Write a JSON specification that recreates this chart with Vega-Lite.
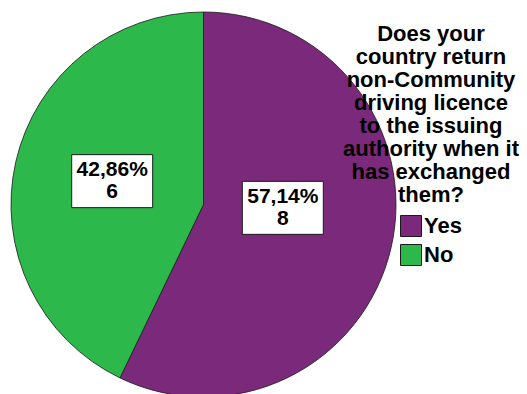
{
  "$schema": "https://vega.github.io/schema/vega-lite/v6.json",
  "width": 407,
  "height": 409,
  "padding": 0,
  "autosize": {"type": "pad"},
  "background": "white",
  "config": {
    "font": "Liberation Sans",
    "view": {"stroke": null}
  },
  "data": {
    "values": [
      {"answer": "Yes", "count": 8},
      {"answer": "No", "count": 6}
    ]
  },
  "transform": [
    {"joinaggregate": [{"op": "sum", "field": "count", "as": "total"}]},
    {"window": [{"op": "sum", "field": "count", "as": "cum"}], "sort": [{"field": "count", "order": "descending"}], "frame": [null, 0]},
    {"calculate": "(datum.cum - datum.count / 2) / datum.total * 2 * PI", "as": "mid"},
    {"calculate": "87.5 * sin(datum.mid) - 6", "as": "lx"},
    {"calculate": "60 * cos(datum.mid) + 10", "as": "ly"},
    {"calculate": "datum.lx - 40.5", "as": "bx1"},
    {"calculate": "datum.lx + 40.5", "as": "bx2"},
    {"calculate": "datum.ly - 26.5", "as": "by1"},
    {"calculate": "datum.ly + 26.5", "as": "by2"},
    {"calculate": "[replace(format(datum.count / datum.total * 100, '.2f'), '.', ',') + '%', '' + datum.count]", "as": "label"}
  ],
  "layer": [
    {
      "mark": {"type": "arc", "outerRadius": 192.5, "stroke": "#1a1a1a", "strokeWidth": 0.8},
      "encoding": {
        "theta": {"field": "count", "type": "quantitative", "stack": true},
        "order": {"field": "count", "type": "quantitative", "sort": "descending"},
        "color": {
          "field": "answer",
          "type": "nominal",
          "scale": {"domain": ["Yes", "No"], "range": ["#7b2a7b", "#2db84b"]},
          "legend": {
            "orient": "none",
            "legendX": 343,
            "legendY": 24,
            "padding": 0,
            "title": ["Does your", "country return", "non-Community", "driving licence", "to the issuing", "authority when it", "has exchanged", "them?"],
            "titleFontSize": 22,
            "titleFontWeight": "bold",
            "titleColor": "black",
            "titleAlign": "center",
            "titleAnchor": "middle",
            "titleLineHeight": 23,
            "titleLimit": 400,
            "titlePadding": 8,
            "titleBaseline": "top",
            "labelFontSize": 22,
            "labelFontWeight": "bold",
            "labelColor": "black",
            "labelLimit": 200,
            "labelOffset": 2,
            "symbolType": "square",
            "symbolSize": 441,
            "symbolStrokeColor": "#1a1a1a",
            "symbolStrokeWidth": 1,
            "symbolOpacity": 1,
            "symbolOffset": 0,
            "rowPadding": 3
          }
        }
      }
    },
    {
      "mark": {"type": "rect", "fill": "white", "stroke": "#1a1a1a", "strokeWidth": 1},
      "encoding": {
        "x": {"field": "bx1", "type": "quantitative", "scale": {"domain": [-203.5, 203.5]}, "axis": null},
        "x2": {"field": "bx2"},
        "y": {"field": "by1", "type": "quantitative", "scale": {"domain": [-204.5, 204.5]}, "axis": null},
        "y2": {"field": "by2"}
      }
    },
    {
      "mark": {"type": "text", "fontSize": 21, "fontWeight": "bold", "color": "black", "align": "center", "baseline": "middle", "lineHeight": 22, "dy": -11},
      "encoding": {
        "x": {"field": "lx", "type": "quantitative", "scale": {"domain": [-203.5, 203.5]}, "axis": null},
        "y": {"field": "ly", "type": "quantitative", "scale": {"domain": [-204.5, 204.5]}, "axis": null},
        "text": {"field": "label"}
      }
    }
  ]
}
